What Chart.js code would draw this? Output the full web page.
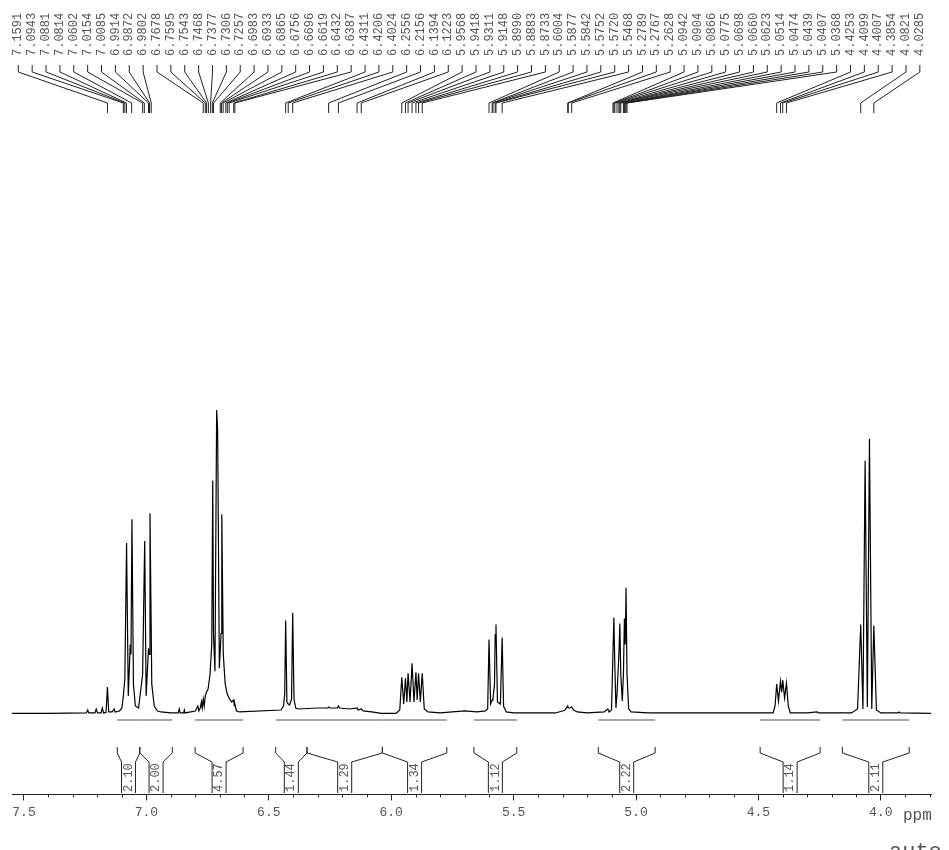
<!DOCTYPE html>
<html>
<head>
<meta charset="utf-8">
<script src="https://cdn.jsdelivr.net/npm/chart.js@4.4.0/dist/chart.umd.min.js"></script>
<style>
  body { margin: 0; background: #fff; }
  canvas { display: block; }
</style>
</head>
<body>
<canvas id="nmrChart" width="949" height="850"></canvas>
<script>
// axis ticks (ppm)
var ppmTicks = [7.5, 7.0, 6.5, 6.0, 5.5, 5.0, 4.5, 4.0];

// picked peaks printed at the top
var peakLabels = [7.1591, 7.0943, 7.0881, 7.0814, 7.0602, 7.0154, 7.0085, 6.9914, 6.9872, 6.9802,
    6.7678, 6.7595, 6.7543, 6.7468, 6.7377, 6.7306, 6.7257, 6.6983, 6.6933, 6.6865, 6.6756, 6.6696,
    6.6619, 6.6432, 6.6387, 6.4311, 6.4206, 6.4024, 6.2556, 6.2156, 6.1394, 6.1223, 5.9568, 5.9418,
    5.9311, 5.9148, 5.8990, 5.8883, 5.8733, 5.6004, 5.5877, 5.5842, 5.5752, 5.5720, 5.5468, 5.2789,
    5.2767, 5.2628, 5.0942, 5.0904, 5.0866, 5.0775, 5.0698, 5.0660, 5.0623, 5.0514, 5.0474, 5.0439,
    5.0407, 5.0368, 4.4253, 4.4099, 4.4007, 4.3854, 4.0821, 4.0285];

// integral regions
var integralFrom = [7.119, 7.027, 6.801, 6.472, 6.344, 6.036, 5.662, 5.154, 4.493, 4.157];
var integralTo = [7.027, 6.894, 6.605, 6.344, 6.036, 5.773, 5.487, 4.922, 4.248, 3.884];
var integralValues = ['2.10', '2.00', '4.57', '1.44', '1.29', '1.34', '1.12', '2.22', '1.14', '2.11'];

// spectrum trace (ppm, intensity)
var shiftPpm = [7.549, 7.40, 7.245, 7.24, 7.235, 7.21, 7.205, 7.20, 7.185, 7.18, 7.175, 7.165, 7.1591, 7.154, 7.14, 7.132, 7.128, 7.11,
    7.100, 7.0943, 7.0881, 7.0810, 7.074, 7.066, 7.063, 7.0590, 7.053, 7.045, 7.032, 7.0154, 7.0070, 7.001, 6.9914, 6.9890, 6.9853, 6.978, 6.968, 6.955,
    6.94, 6.90, 6.87, 6.866, 6.862, 6.848, 6.845, 6.842, 6.80, 6.79, 6.786, 6.78, 6.775, 6.772, 6.7678, 6.764, 6.7595, 6.7543, 6.748,
    6.740, 6.733, 6.729, 6.726, 6.720, 6.713, 6.709, 6.702, 6.695, 6.692, 6.686, 6.678, 6.670, 6.660, 6.652, 6.6432, 6.6410, 6.6387, 6.632, 6.62,
    6.45, 6.44, 6.435, 6.4311, 6.426, 6.4206, 6.415, 6.407, 6.4024, 6.397, 6.39, 6.38,
    6.30, 6.26, 6.2556, 6.251, 6.22, 6.2156, 6.211, 6.17, 6.1394, 6.135, 6.1223, 6.115, 6.08, 6.04, 5.98, 5.965,
    5.9568, 5.949, 5.9418, 5.936, 5.9311, 5.923, 5.9148, 5.907, 5.8990, 5.894, 5.8883, 5.881, 5.8733, 5.865, 5.85,
    5.80, 5.75, 5.70, 5.65, 5.615, 5.606,
    5.6004, 5.594, 5.5877, 5.5842, 5.5780, 5.5752, 5.5720, 5.566, 5.5540, 5.5468, 5.541, 5.53, 5.50,
    5.33, 5.30, 5.29, 5.2789, 5.2767, 5.27, 5.2628, 5.255, 5.24, 5.20, 5.13, 5.115, 5.11, 5.10,
    5.0942, 5.0904, 5.0866, 5.082, 5.0775, 5.0698, 5.0660, 5.0623, 5.056, 5.0514, 5.0474, 5.0439, 5.0407, 5.0368, 5.030, 5.020,
    4.95, 4.80, 4.60, 4.44, 4.432, 4.4253, 4.418, 4.4099, 4.405, 4.4007, 4.393, 4.3854, 4.378, 4.37,
    4.30, 4.26, 4.255, 4.25, 4.12, 4.095, 4.0821, 4.073, 4.0642, 4.055, 4.0464, 4.037, 4.0285, 4.018, 4.00, 3.93, 3.925, 3.92, 3.795];
var intensity = [0.5, 0.5, 1, 4, 1, 1, 5, 1, 1, 6, 1, 1.5, 27, 2, 2, 5, 2, 3,
    6, 18, 35, 172, 18, 70, 60, 196, 30, 8, 6, 40, 174, 18, 66, 60, 202, 30, 8, 3,
    2, 1, 1, 5, 1, 1, 4, 1, 3, 8, 3, 6, 12, 6, 15, 8, 18, 22, 25,
    40, 70, 235, 81, 43, 306, 286, 46, 81, 201, 60, 30, 20, 15, 12, 14, 8, 10, 3, 2,
    4, 8, 20, 94, 12, 10, 9, 15, 102, 15, 6, 5,
    6, 6, 7, 6, 6, 8, 6, 5, 6, 4, 5, 3, 2, 0.5, 0.5, 4,
    37, 10, 36, 12, 41, 12, 51, 12, 42, 14, 41, 12, 41, 5, 2,
    1, 2, 3, 2, 3, 5,
    75, 10, 14, 16, 30, 80, 90, 12, 10, 77, 8, 2, 1,
    1, 3, 4, 8, 6, 6, 7, 4, 2, 1, 2, 5, 2, 4,
    61, 97, 50, 6, 20, 61, 91, 40, 13, 40, 96, 70, 127, 40, 5, 2,
    1, 1, 1, 1, 8, 30, 13, 33, 22, 34, 16, 31, 8, 1,
    1, 2, 1, 1, 1, 5, 90, 5, 255, 7, 277, 5, 89, 4, 1, 1, 2, 1, 0.5];

var textColor = '#555';
var lineColor = '#222';
var monoFont = '"Liberation Mono", "DejaVu Sans Mono", monospace';

// peak list along the top, with the bent leader lines
var peakLabelPlugin = {
    id: 'peakLabels',
    afterDraw: function(chart) {
        var ctx = chart.ctx;
        var xs = chart.scales.x;
        var first = 18.3, step = 13.87;
        ctx.save();
        ctx.font = '12px ' + monoFont;
        ctx.textBaseline = 'middle';
        ctx.textAlign = 'left';
        peakLabels.forEach(function(p, i) {
            var lx = first + i * step;
            var px = xs.getPixelForValue(p);
            ctx.save();
            ctx.translate(lx, 56);
            ctx.rotate(-Math.PI / 2);
            ctx.fillStyle = textColor;
            ctx.fillText(p.toFixed(4), 0, 0);
            ctx.restore();
            ctx.strokeStyle = lineColor;
            ctx.lineWidth = 1;
            ctx.beginPath();
            ctx.moveTo(lx, 65);
            ctx.lineTo(lx, 72);
            ctx.lineTo(px, 103);
            ctx.lineTo(px, 113);
            ctx.stroke();
        });
        ctx.restore();
    }
};

// integral brackets under the trace
var integralPlugin = {
    id: 'integrals',
    afterDraw: function(chart) {
        var ctx = chart.ctx;
        var xs = chart.scales.x;
        ctx.save();
        ctx.font = '12px ' + monoFont;
        ctx.textBaseline = 'middle';
        ctx.textAlign = 'left';
        integralValues.forEach(function(v, i) {
            var l = xs.getPixelForValue(integralFrom[i]);
            var r = xs.getPixelForValue(integralTo[i]);
            var c = (l + r) / 2;
            ctx.strokeStyle = '#888';
            ctx.lineWidth = 1.5;
            ctx.beginPath();
            ctx.moveTo(l, 720);
            ctx.lineTo(r, 720);
            ctx.stroke();
            ctx.strokeStyle = lineColor;
            ctx.lineWidth = 1;
            ctx.beginPath();
            ctx.moveTo(l, 747);
            ctx.lineTo(l, 753);
            ctx.lineTo(c - 7, 762);
            ctx.lineTo(c - 7, 793);
            ctx.moveTo(r, 747);
            ctx.lineTo(r, 753);
            ctx.lineTo(c + 7, 762);
            ctx.lineTo(c + 7, 793);
            ctx.stroke();
            ctx.save();
            ctx.translate(c, 792);
            ctx.rotate(-Math.PI / 2);
            ctx.fillStyle = textColor;
            ctx.fillText(v, 0, 0);
            ctx.restore();
        });
        ctx.restore();
    }
};

// minor ticks every 0.1 ppm, unit and footer text
var axisExtrasPlugin = {
    id: 'axisExtras',
    afterDraw: function(chart) {
        var ctx = chart.ctx;
        var xs = chart.scales.x;
        var y0 = chart.chartArea.bottom;
        ctx.save();
        ctx.strokeStyle = lineColor;
        ctx.lineWidth = 1;
        ctx.beginPath();
        for (var k = 38; k <= 75; k++) {
            var v = k / 10;
            if (k % 5 === 0) continue;
            var px = Math.round(xs.getPixelForValue(v)) + 0.5;
            ctx.moveTo(px, y0);
            ctx.lineTo(px, y0 + 3);
        }
        ctx.stroke();
        ctx.fillStyle = textColor;
        ctx.font = '16px ' + monoFont;
        ctx.textBaseline = 'middle';
        ctx.fillText('ppm', 903, 816);
        ctx.font = '22px ' + monoFont;
        ctx.textBaseline = 'alphabetic';
        ctx.fillText('auto', 889, 858);
        ctx.restore();
    }
};

var ctx = document.getElementById('nmrChart').getContext('2d');
var chart = new Chart(ctx, {
    type: 'line',
    data: {
        datasets: [{
            data: shiftPpm.map(function(p, i) { return { x: p, y: intensity[i] }; }),
            borderColor: '#000',
            borderWidth: 1.2,
            pointRadius: 0,
            tension: 0,
            fill: false
        }]
    },
    options: {
        responsive: false,
        animation: false,
        parsing: false,
        layout: { padding: { left: 12, right: 18, top: 120, bottom: 26 } },
        plugins: { legend: { display: false }, tooltip: { enabled: false } },
        scales: {
            x: {
                type: 'linear',
                reverse: true,
                min: 3.795,
                max: 7.549,
                afterBuildTicks: function(scale) {
                    scale.ticks = ppmTicks.map(function(v) { return { value: v }; });
                },
                ticks: {
                    color: textColor,
                    font: { family: monoFont, size: 13 },
                    padding: 4,
                    maxRotation: 0,
                    callback: function(v) { return Number(v).toFixed(1); }
                },
                grid: { drawOnChartArea: false, drawTicks: true, tickLength: 6, color: lineColor },
                border: { display: true, color: lineColor }
            },
            y: { display: false, min: -81, max: 598 }
        }
    },
    plugins: [peakLabelPlugin, integralPlugin, axisExtrasPlugin]
});
</script>
</body>
</html>
